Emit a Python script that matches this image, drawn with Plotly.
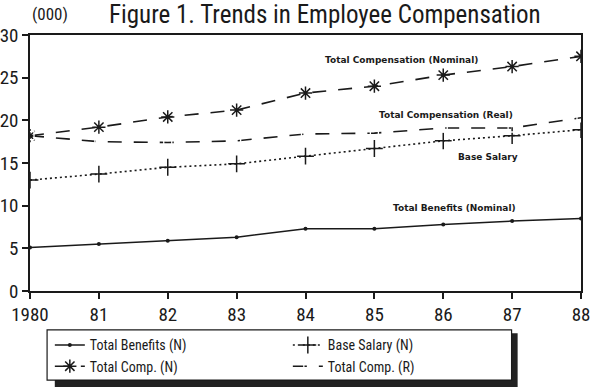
import plotly.graph_objects as go

years = [1980, 1981, 1982, 1983, 1984, 1985, 1986, 1987, 1988]
tick_labels = ["1980", "81", "82", "83", "84", "85", "86", "87", "88"]
total_benefits = [5.1, 5.5, 5.9, 6.3, 7.3, 7.3, 7.8, 8.2, 8.5]
base_salary = [13.0, 13.7, 14.5, 14.9, 15.8, 16.7, 17.6, 18.2, 18.9]
total_comp_nominal = [18.2, 19.2, 20.4, 21.2, 23.2, 24.0, 25.3, 26.3, 27.5]
total_comp_real = [18.2, 17.5, 17.4, 17.6, 18.4, 18.5, 19.1, 19.1, 20.3]

FONT = "Roboto Condensed, DejaVu Sans Condensed, sans-serif"
INK = "#1a1a1a"

fig = go.Figure()
fig.add_trace(go.Scatter(x=years, y=total_benefits, name="Total Benefits (N)", mode="lines+markers",
                         line=dict(color=INK, width=1.5), marker=dict(symbol="circle", size=4, color=INK)))
fig.add_trace(go.Scatter(x=years, y=base_salary, name="Base Salary (N)", mode="lines+markers",
                         line=dict(color=INK, width=1.6, dash="2px,3px"),
                         marker=dict(symbol="cross-thin-open", size=12, line=dict(color=INK, width=1.5))))
fig.add_trace(go.Scatter(x=years, y=total_comp_nominal, name="Total Comp. (N)", mode="lines+markers",
                         line=dict(color=INK, width=1.6, dash="14px,12px"),
                         marker=dict(symbol="asterisk-open", size=11, line=dict(color=INK, width=1.5))))
fig.add_trace(go.Scatter(x=years, y=total_comp_real, name="Total Comp. (R)", mode="lines+markers",
                         line=dict(color=INK, width=1.6, dash="14px,12px"),
                         marker=dict(symbol="square-open", size=8, color="white", line=dict(color=INK, width=1.3))))

lab = dict(family="DejaVu Sans, sans-serif", size=9, color=INK)
fig.add_annotation(x=1985.4, y=27.1, text="<b>Total Compensation (Nominal)</b>", showarrow=False, font=lab)
fig.add_annotation(x=1986.04, y=20.6, text="<b>Total Compensation (Real)</b>", showarrow=False, font=lab)
fig.add_annotation(x=1986.65, y=15.7, text="<b>Base Salary</b>", showarrow=False, font=lab)
fig.add_annotation(x=1986.16, y=9.73, text="<b>Total Benefits (Nominal)</b>", showarrow=False, font=lab)

fig.add_annotation(xref="paper", yref="paper", x=0.14, y=1.0, yshift=21, xanchor="left", yanchor="middle",
                   text="Figure 1. Trends in Employee Compensation", showarrow=False,
                   font=dict(family=FONT, size=25, color=INK))
fig.add_annotation(xref="paper", yref="paper", x=0.0, y=1.0, yshift=21, xanchor="left", yanchor="middle",
                   text="(000)", showarrow=False, font=dict(family=FONT, size=17, color=INK))

# legend frame and shadow
fig.add_shape(type="rect", xref="paper", yref="paper", x0=0.045, x1=0.885, y0=-0.375, y1=-0.165,
              fillcolor="#222", line=dict(width=0), layer="below")
fig.add_shape(type="rect", xref="paper", yref="paper", x0=0.031, x1=0.874, y0=-0.348, y1=-0.152,
              fillcolor="white", line=dict(color=INK, width=1.2), layer="below")

fig.update_layout(
    width=592, height=392,
    margin=dict(l=30, r=11, t=35, b=101, autoexpand=False),
    paper_bgcolor="white", plot_bgcolor="white",
    font=dict(family=FONT, color=INK),
    showlegend=True,
    legend=dict(orientation="h", x=0.036, y=-0.15, xanchor="left", yanchor="top",
                entrywidth=193, entrywidthmode="pixels", bgcolor="rgba(0,0,0,0)",
                font=dict(family=FONT, size=14, color=INK), tracegroupgap=0, itemwidth=30,
                traceorder="normal"),
    xaxis=dict(range=[1980, 1988], tickvals=years, ticktext=tick_labels, showgrid=False, zeroline=False,
               showline=True, linecolor=INK, linewidth=1.5, mirror=True, ticks="outside", ticklen=6,
               tickwidth=1.5, tickcolor=INK, tickfont=dict(family=FONT, size=19, color=INK),
               ticklabelstandoff=-1, automargin=False),
    yaxis=dict(range=[0, 30], tickvals=[0, 5, 10, 15, 20, 25, 30], showgrid=False, zeroline=False,
               showline=True, linecolor=INK, linewidth=1.5, mirror=True, ticks="outside", ticklen=6,
               tickwidth=1.5, tickcolor=INK, tickfont=dict(family=FONT, size=19, color=INK),
               automargin=False),
)

fig.write_html("out.html", config={"displayModeBar": False},
               post_script="document.body.style.margin='0';document.body.style.overflow='hidden';")
